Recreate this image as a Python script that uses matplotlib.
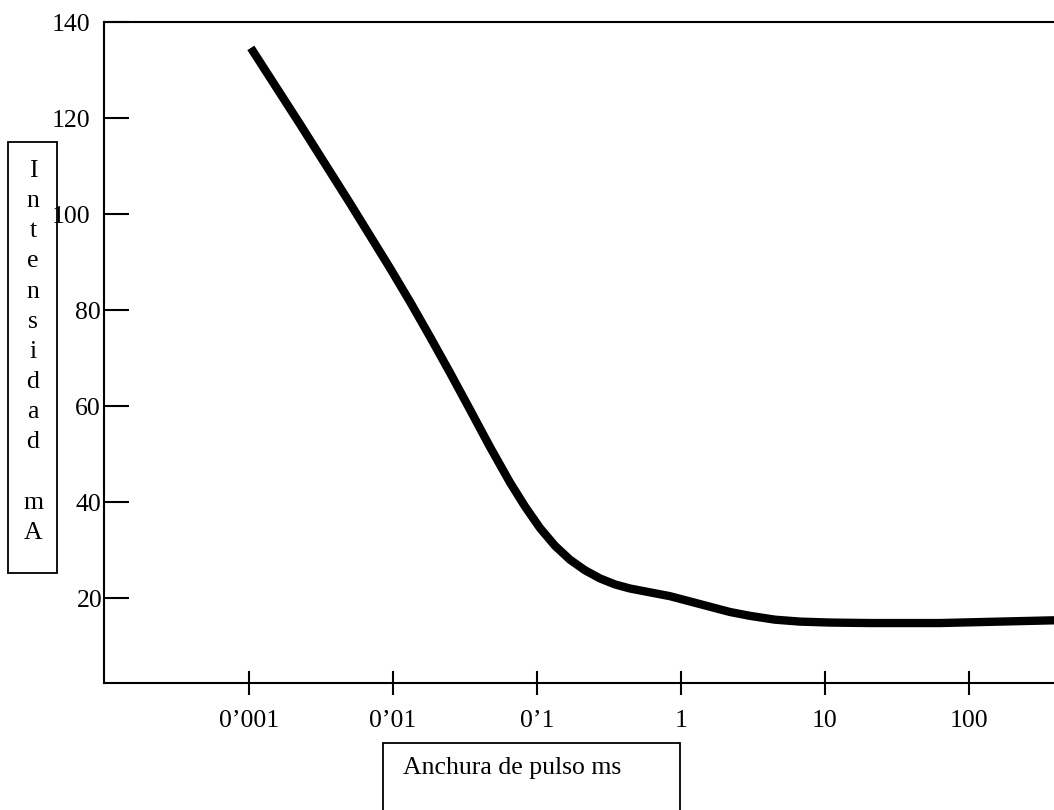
import matplotlib
matplotlib.use("Agg")
import matplotlib.pyplot as plt
from matplotlib.patches import Rectangle

plt.rcParams["font.family"] = ["Liberation Serif", "DejaVu Serif"]

# curva intensidad-duracion
pulse_ms = [0.00103, 0.00226, 0.00503, 0.00953, 0.01312, 0.01806, 0.02487,
            0.03424, 0.04717, 0.06494, 0.08254, 0.1049, 0.1334, 0.1695,
            0.2154, 0.2738, 0.3480, 0.4423, 0.6090, 0.8387, 1.155, 1.590,
            2.189, 3.014, 4.496, 6.706, 10.83, 20.54, 62.9, 428.5]
current_ma = [134.6, 118.7, 102.2, 88.7, 81.7, 74.4, 66.9,
              59.2, 51.4, 44.0, 39.0, 34.5, 30.8, 27.9,
              25.7, 24.0, 22.75, 21.9, 21.1, 20.3, 19.2, 18.1,
              17.0, 16.2, 15.4, 15.0, 14.8, 14.7, 14.7, 15.3]

x_ticks = [0.001, 0.01, 0.1, 1, 10, 100]
x_labels = ["0\u2019001", "0\u201901", "0\u20191", "1", "10", "100"]
y_ticks = [140, 120, 100, 80, 60, 40, 20]
y_labels = ["140", "120", "100", "80", "60", "40", "20"]
# separacion (px) de cada etiqueta del eje y respecto al eje
y_label_gap = [14, 14, 14, 3, 3, 3, 1]

W, H = 1054, 810
FS = 18.5
fig = plt.figure(figsize=(W / 100, H / 100), dpi=100)
ax = fig.add_axes([104 / W, 127 / H, 1009 / W, 661 / H])

ax.plot(pulse_ms, current_ma, color="black", lw=6, solid_capstyle="butt",
        solid_joinstyle="round")
ax.set_xscale("log")
ax.set_xlim(10 ** (-3 - 145 / 144), 1e3)
ax.set_ylim(2.2, 140)

ax.spines["right"].set_visible(False)
for s in ("left", "top", "bottom"):
    ax.spines[s].set_linewidth(1.5)

ax.set_xticks(x_ticks)
ax.set_xticklabels(x_labels, fontsize=FS)
ax.xaxis.set_minor_locator(matplotlib.ticker.NullLocator())
ax.tick_params(axis="x", direction="inout", length=17, width=1.5, pad=11)

ax.set_yticks(y_ticks)
ax.set_yticklabels([])
ax.tick_params(axis="y", direction="in", length=18, width=1.5)
for v, lab, gap in zip(y_ticks, y_labels, y_label_gap):
    ax.annotate(lab, xy=(0, v), xycoords=ax.get_yaxis_transform(),
                xytext=(-gap, -3), textcoords="offset pixels",
                ha="right", va="center", fontsize=FS, annotation_clip=False)

# caja del eje y con letras apiladas
fig.patches.append(Rectangle((8 / W, 1 - 573 / H), 49 / W, 431 / H,
                             transform=fig.transFigure, fill=False,
                             lw=1.3, ec="black"))
fig.text(33 / W, 1 - 160 / H, "I\nn\nt\ne\nn\ns\ni\nd\na\nd\n\nm\nA",
         ha="center", va="top", fontsize=FS, linespacing=1.48)

# caja del eje x
fig.patches.append(Rectangle((383 / W, -10 / H), 297 / W, (810 - 743 + 10) / H,
                             transform=fig.transFigure, fill=False,
                             lw=1.3, ec="black"))
fig.text(403 / W, 1 - 768 / H, "Anchura de pulso ms", ha="left", va="center",
         fontsize=FS)

fig.savefig("out.png", dpi=100)
